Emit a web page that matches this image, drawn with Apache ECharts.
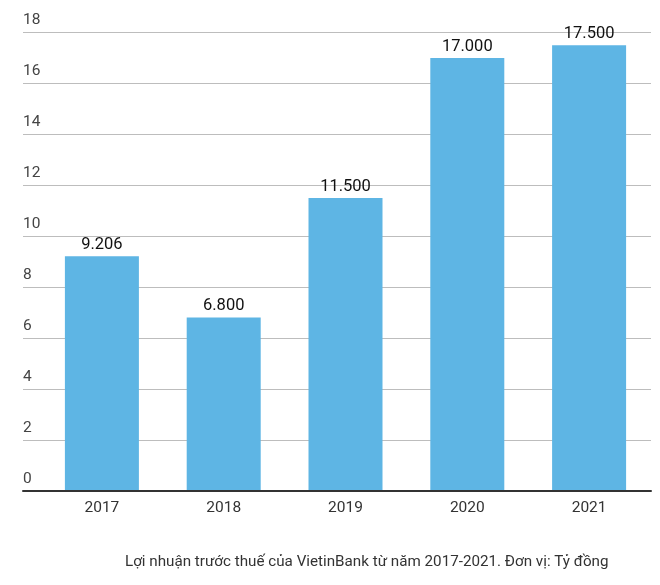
<!DOCTYPE html>
<html>
<head>
<meta charset="utf-8">
<script src="https://cdn.jsdelivr.net/npm/echarts@6/dist/echarts.min.js"></script>
<style>html,body{margin:0;padding:0;background:#fff}#c{width:660px;height:585px}</style>
</head>
<body>
<div id="c"></div>
<script>
var categories = ['2017', '2018', '2019', '2020', '2021'];
var profit = [9.206, 6.8, 11.5, 17, 17.5];
var profitLabels = ['9.206', '6.800', '11.500', '17.000', '17.500'];
var yTicks = [0, 2, 4, 6, 8, 10, 12, 14, 16, 18];
var titleText = 'Lợi nhuận trước thuế của VietinBank từ năm 2017-2021. Đơn vị: Tỷ đồng';

var chart = echarts.init(document.getElementById('c'));
var font = 'Roboto';
chart.setOption({
  animation: false,
  backgroundColor: '#ffffff',
  title: {
    text: titleText,
    left: 125, top: 555, padding: 0,
    textStyle: { fontFamily: font, fontSize: 15.2, fontWeight: 'normal', color: '#333333' }
  },
  grid: [
    { left: 23, right: 9, top: 32.5, bottom: 94.3 },
    { left: 41, right: 10, top: 32.5, bottom: 94.3 }
  ],
  xAxis: [
    { gridIndex: 0, type: 'category', data: [''], axisTick: { show: false }, axisLabel: { show: false },
      axisLine: { show: true, lineStyle: { color: '#333333', width: 2 } }, z: 5 },
    { gridIndex: 1, type: 'category', data: categories, axisTick: { show: false },
      axisLine: { show: false },
      axisLabel: { fontFamily: font, fontSize: 15.5, color: '#333333', margin: 9 } }
  ],
  yAxis: [
    { gridIndex: 0, type: 'value', min: yTicks[0], max: yTicks[yTicks.length - 1], interval: 2,
      axisLine: { show: false }, axisTick: { show: false },
      splitLine: { lineStyle: { color: '#bdbdbd', width: 1 } },
      axisLabel: { inside: true, margin: 0, verticalAlign: 'bottom', padding: [0, 0, 4, 0],
        fontFamily: font, fontSize: 15.5, color: '#444444' } },
    { gridIndex: 1, type: 'value', min: yTicks[0], max: yTicks[yTicks.length - 1], interval: 2,
      show: false }
  ],
  series: [{
    type: 'bar',
    xAxisIndex: 1, yAxisIndex: 1,
    data: profit,
    barWidth: 74,
    itemStyle: { color: '#5EB5E4' },
    label: {
      show: true, position: 'top', distance: 3,
      fontFamily: font, fontSize: 16.5, color: '#111111',
      formatter: function (p) { return profitLabels[p.dataIndex]; }
    }
  }]
});
</script>
</body>
</html>
